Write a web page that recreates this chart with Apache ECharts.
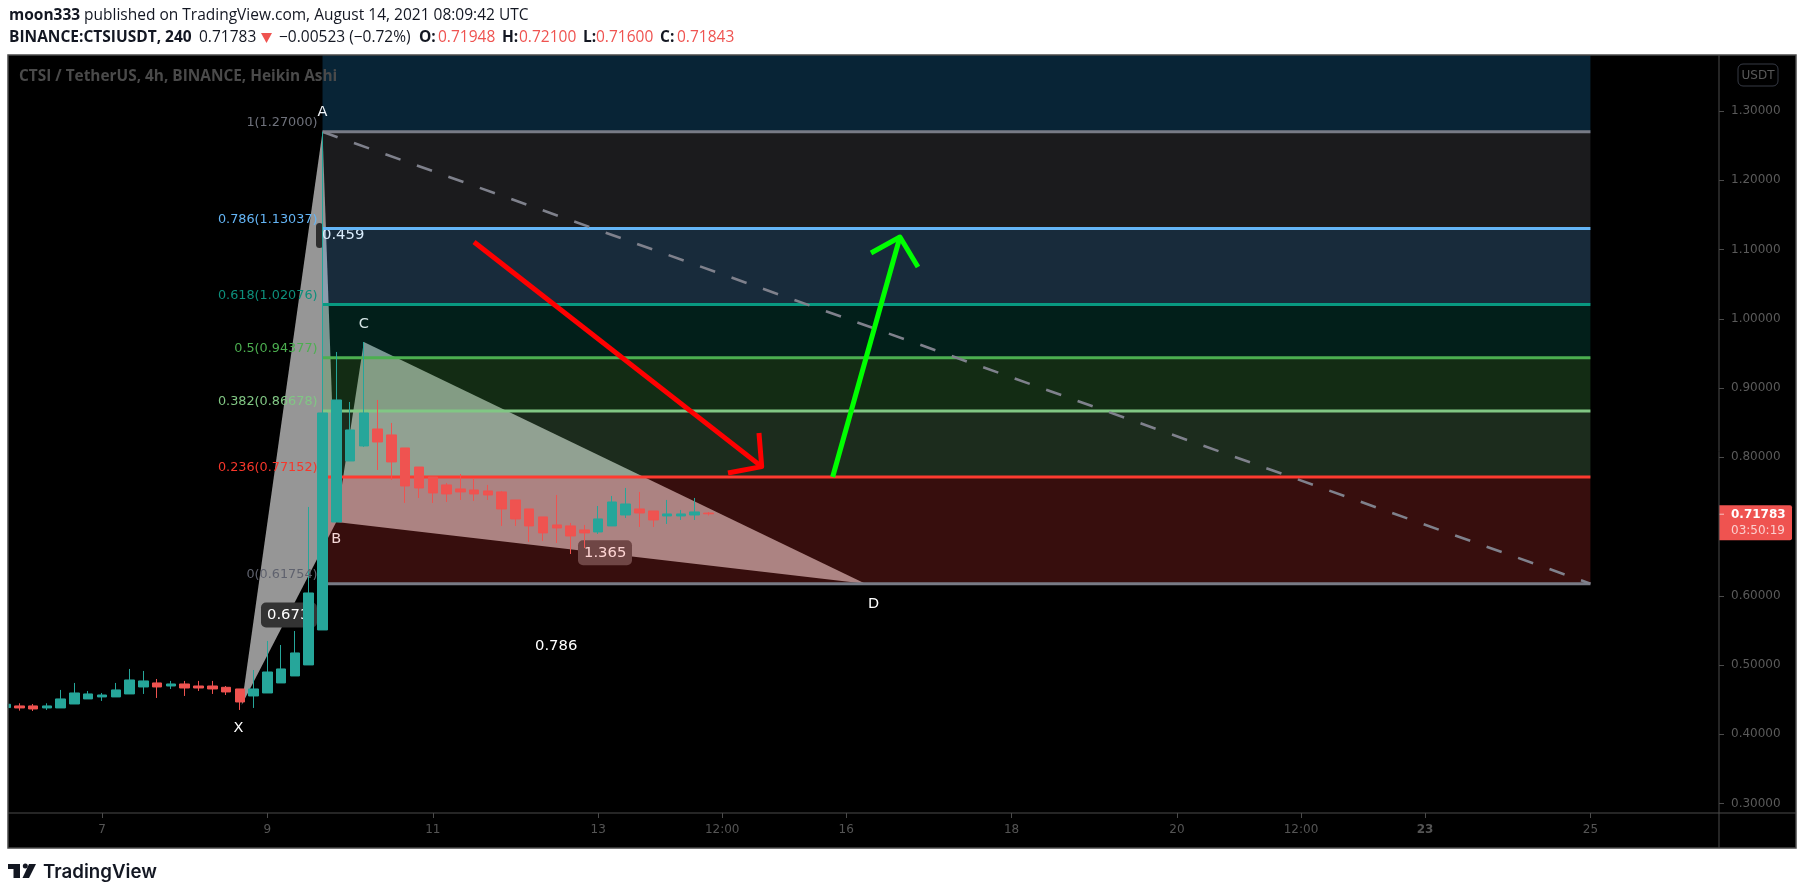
<!DOCTYPE html>
<html>
<head>
<meta charset="utf-8">
<style>html,body{margin:0;padding:0;background:#fff}#c{width:1805px;height:895px}</style>
<script src="https://cdn.jsdelivr.net/npm/echarts@6/dist/echarts.min.js"></script>
</head>
<body>
<div id="c"></div>
<script>
// ---- candle data (Heikin Ashi, 4h bars)
const firstBarDay = 5.8333;
const barStepDays = 0.16667;
const opens  = [.4386,.4410,.4410,.4381,.4381,.4438,.4511,.4540,.4540,.4583,.4684,.4742,.4698,.4727,.4698,.4698,.4679,.4655,.4554,.4597,.4742,.4843,.5002,.5507,.7066,.7947,.8164,.8409,.8323,.8135,.7860,.7716,.7601,.7543,.7528,.7514,.7500,.7384,.7254,.7139,.7023,.7009,.6951,.6922,.7009,.7167,.7254,.7225,.7153,.7153,.7167,.71948];
const closes = [.4434,.4381,.4366,.4410,.4511,.4597,.4583,.4568,.4641,.4785,.4771,.4684,.4727,.4669,.4669,.4655,.4612,.4467,.4655,.4900,.4944,.5175,.6041,.8640,.8828,.8395,.8640,.8221,.7933,.7586,.7557,.7485,.7471,.7500,.7471,.7456,.7254,.7110,.7009,.6908,.6980,.6864,.6908,.7110,.7355,.7326,.7196,.7095,.7182,.7182,.7211,.71843];
const lows   = [.4386,.4342,.4337,.4352,.4381,.4438,.4511,.4482,.4540,.4583,.4583,.4525,.4655,.4554,.4626,.4583,.4568,.4352,.4381,.4597,.4742,.4843,.5002,.5507,.7066,.7947,.8149,.7817,.7673,.7341,.7413,.7341,.7355,.7384,.7370,.7384,.7009,.7009,.6778,.6792,.6763,.6604,.6691,.6893,.7009,.7124,.6994,.6994,.7038,.7095,.7095,.71600];
const highs  = [.4434,.4448,.4438,.4448,.4641,.4742,.4626,.4597,.4742,.4944,.4915,.4799,.4771,.4771,.4771,.4771,.4698,.4655,.4929,.5348,.5290,.5492,.7283,1.2700,.9521,.8799,.9665,.8828,.8496,.8135,.7860,.7716,.7629,.7759,.7702,.7601,.7514,.7384,.7254,.7139,.7456,.7052,.7023,.7297,.7442,.7557,.7500,.7225,.7384,.7240,.7413,.72100];

// ---- fibonacci retracement
const fibRatios = ['1','0.786','0.618','0.5','0.382','0.236','0'];
const fibValues = [1.27000,1.13037,1.02076,0.94377,0.86678,0.77152,0.61754];
const fibLabels = ['1(1.27000)','0.786(1.13037)','0.618(1.02076)','0.5(0.94377)','0.382(0.86678)','0.236(0.77152)','0(0.61754)'];
const fibLineColors = ['#787b86','#64b5f6','#089981','#4caf50','#81c784','#ff3b30','#787b86'];
const fibLabelColors = ['#6f727c','#64b5f6','#0d8f7c','#4caf50','#81c784','#f7372b','#5f626e'];
const fibFillColors = ['rgba(40,170,255,.21)','rgba(135,135,145,.2)','rgba(100,181,246,.24)','rgba(8,153,129,.2)','rgba(76,175,80,.25)','rgba(129,199,132,.22)','rgba(250,65,60,.22)'];
const fibLeftDay = 9.6667, fibRightDay = 25;

// ---- harmonic pattern points [day, price]
const ptX = [8.689,0.4424], ptA = [9.6667,1.27], ptB = [9.8333,0.7066], ptC = [10.1667,0.9665], ptD = [16.233,0.61754];
const pointLabels = [
  ['A',9.6667,1.2985,'#f2f6fa'],['B',9.8333,0.6820,'#f5d8d8'],['C',10.1667,0.9920,'#d6e6e6'],
  ['D',16.33,0.5880,'#ffffff'],['X',8.65,0.4091,'#ffffff']];
const ratioTags = [
  ['0.673',267,0.5724,'#ffffff'],['0.459',322,1.1203,'#e6eef4'],['1.365',584,0.6623,'#f7dcdc'],['0.786',535,0.5276,'#ffffff']];

// ---- arrows
const redArrowShaft = [[11.499,1.1109],[14.978,0.7865]];
const redArrowHead  = [[14.945,0.8351],[14.978,0.7865],[14.570,0.7774]];
const greenArrowShaft = [[15.836,0.7716],[16.650,1.1181]];
const greenArrowHead  = [[16.300,1.0950],[16.650,1.1181],[16.868,1.0748]];

// ---- axes
const tickDays = [7,9,11,13,14.5,16,18,20,21.5,23,25];
const tickLabels = ['7','9','11','13','12:00','16','18','20','12:00','23','25'];
const priceTicks = [0.3,0.4,0.5,0.6,0.7,0.8,0.9,1.0,1.1,1.2,1.3];
const lastPrice = 0.71783;
const xMin = 5.8632, xMax = 26.555, yMin = 0.2864, yMax = 1.3809;

const candles = opens.map((o,i)=>[firstBarDay+i*barStepDays,o,closes[i],lows[i],highs[i]]);
const bandBounds = [yMax].concat(fibValues);
const fibBands = fibFillColors.map((c,i)=>[fibLeftDay,bandBounds[i],bandBounds[i+1],i]);
const MONO = '"DejaVu Sans",sans-serif';
const HEAD = '"Open Sans",sans-serif';
const frame = '#4a4a4a';

function triangleSeries(a,b,c,z){
  return {type:'custom',z,silent:true,animation:false,clip:true,
    encode:{x:[0,2,4],y:[1,3,5]},
    data:[[a[0],a[1],b[0],b[1],c[0],c[1]]],
    renderItem:(p,api)=>({type:'polygon',
      shape:{points:[0,2,4].map(k=>api.coord([api.value(k),api.value(k+1)]))},
      style:{fill:'#969696'}})};
}
function polyline(data,color,width,z,dash){
  return {type:'line',data,z,silent:true,animation:false,showSymbol:false,symbol:'none',clip:true,
    lineStyle:{color,width,type:dash||'solid',cap:'butt',join:'round'},itemStyle:{color}};
}

const series = [
  triangleSeries(ptX,ptA,ptB,1),
  triangleSeries(ptB,ptC,ptD,1),
  // tag boxes that sit below candles and fib fills
  {type:'custom',z:2,silent:true,animation:false,clip:false,
   data:ratioTags.map(t=>[xMin,t[2],t[1]]),
   encode:{x:0,y:1},
   renderItem:(p,api)=>{
     const t=ratioTags[p.dataIndex];const y=api.coord([xMin,t[2]])[1];const x=t[1];
     let box=null;
     if(t[0]==='0.673')box={x:x-6,w:56,fill:'#333333'};
     if(t[0]==='0.459')box={x:x-6,w:7,fill:'#2e2e2e'};
     if(t[0]==='1.365')box={x:x-6,w:54,fill:'#484848'};
     if(!box)return null;
     return {type:'rect',shape:{x:box.x,y:y-12.5,width:box.w,height:25,r:5},style:{fill:box.fill}};
   }},
  // ratio tag texts below the candles
  {type:'custom',z:2,silent:true,animation:false,clip:false,
   data:ratioTags.map(t=>[xMin,t[2]]),encode:{x:0,y:1},
   renderItem:(p,api)=>{
     const t=ratioTags[p.dataIndex];const y=api.coord([xMin,t[2]])[1];
     return {type:'text',z2:5,style:{x:t[1],y:y,text:t[0],fill:t[0]==='1.365'||t[0]==='0.459'?'#ffffff':t[3],font:'14.8px '+MONO,align:'left',verticalAlign:'middle'}};
   }},
  // fib fills
  {type:'custom',z:3,silent:true,animation:false,clip:true,
   data:fibBands,encode:{x:0,y:1},
   renderItem:(p,api)=>{
     const a=api.coord([fibLeftDay,api.value(1)]);const b=api.coord([fibRightDay,api.value(2)]);
     return {type:'rect',shape:{x:a[0],y:a[1],width:b[0]-a[0],height:b[1]-a[1]},style:{fill:fibFillColors[api.value(3)]}};
   }},
  // fib level lines
  ...fibValues.map((v,i)=>polyline([[fibLeftDay,v],[fibRightDay,v]],fibLineColors[i],3,4)),
  // dashed trend line
  polyline([[fibLeftDay,fibValues[0]],[fibRightDay,fibValues[6]]],'#7f818c',2.6,5,[16,17.4]),
  // candles
  {type:'candlestick',name:'CTSIUSDT',z:6,silent:true,animation:false,barWidth:10,clip:true,
   encode:{x:0,y:[1,2,3,4]},data:candles,
   itemStyle:{color:'#26a69a',color0:'#ef5350',borderColor:'#26a69a',borderColor0:'#ef5350',borderWidth:1}},
  // fib labels
  {type:'custom',z:7,silent:true,animation:false,clip:false,
   data:fibValues.map(v=>[fibLeftDay,v]),encode:{x:0,y:1},
   renderItem:(p,api)=>{
     const c=api.coord([api.value(0),api.value(1)]);
     return {type:'text',style:{x:c[0]-5,y:c[1]-9,text:fibLabels[p.dataIndex],fill:fibLabelColors[p.dataIndex],font:'12.8px '+MONO,align:'right',verticalAlign:'middle'}};
   }},
  // point labels
  {type:'custom',z:7,silent:true,animation:false,clip:false,
   data:pointLabels.map(t=>[t[1],t[2]]),encode:{x:0,y:1},
   renderItem:(p,api)=>{
     const c=api.coord([api.value(0),api.value(1)]);
     return {type:'text',style:{x:c[0],y:c[1],text:pointLabels[p.dataIndex][0],fill:pointLabels[p.dataIndex][3],font:'14.5px '+MONO,align:'center',verticalAlign:'middle'}};
   }},
  polyline(redArrowShaft,'#ff0000',5,8),
  polyline(redArrowHead,'#ff0000',5,8),
  polyline(greenArrowShaft,'#00ff00',5,8),
  polyline(greenArrowHead,'#00ff00',5,8),
  // last price tag
  {type:'custom',z:9,silent:true,animation:false,clip:false,
   data:[[xMax,lastPrice]],encode:{x:0,y:1},
   renderItem:(p,api)=>{
     const c=api.coord([api.value(0),api.value(1)]);
     return {type:'group',children:[
       {type:'rect',shape:{x:c[0],y:c[1]-9,width:73,height:35,r:[0,2,2,0]},style:{fill:'#ef5350'}},
       {type:'rect',shape:{x:c[0],y:c[1]-0.5,width:5,height:1},style:{fill:'#f9c0bd'}},
       {type:'text',style:{x:c[0]+12,y:c[1]+1,text:lastPrice.toFixed(5),fill:'#ffffff',font:'bold 12px '+MONO,verticalAlign:'middle'}},
       {type:'text',style:{x:c[0]+12,y:c[1]+17,text:'03:50:19',fill:'rgba(255,255,255,.72)',font:'12px '+MONO,verticalAlign:'middle'}}
     ]};
   }}
];

function t(text,x,y,fill,font,extra){
  return Object.assign({type:'text',z:50,silent:true,style:{text,x,y,fill,font,verticalAlign:'middle',align:'left'}},extra||{});
}
const graphic = [
  {type:'rect',z:-10,silent:true,shape:{x:8,y:55,width:1788,height:793},style:{fill:'#000'}},
  {type:'rect',z:100,silent:true,shape:{x:0,y:55,width:7.5,height:793},style:{fill:'#fff'}},
  {type:'rect',z:101,silent:true,shape:{x:8,y:55,width:1788,height:793},style:{fill:'none',stroke:frame,lineWidth:1.5}},
  {type:'line',z:40,silent:true,shape:{x1:8,y1:813,x2:1796,y2:813},style:{stroke:frame,lineWidth:1}},
  {type:'line',z:40,silent:true,shape:{x1:1719,y1:55,x2:1719,y2:848},style:{stroke:frame,lineWidth:1}},
  t('moon333',9,16,'#131722','bold 15.5px '+HEAD),
  t('published on TradingView.com, August 14, 2021 08:09:42 UTC',84,16,'#131722','15.5px '+HEAD),
  t('BINANCE:CTSIUSDT, 240',9,38,'#131722','bold 15.5px '+HEAD),
  t('0.71783',199,38,'#131722','15.5px '+HEAD),
  {type:'polygon',z:50,silent:true,shape:{points:[[261,33],[272,33],[266.5,43]]},style:{fill:'#ef5350'}},
  t('−0.00523 (−0.72%)',279,38,'#131722','15.5px '+HEAD),
  t('O:',419,38,'#131722','bold 15.5px '+HEAD),t('0.71948',438,38,'#ef5350','15.5px '+HEAD),
  t('H:',502,38,'#131722','bold 15.5px '+HEAD),t('0.72100',519,38,'#ef5350','15.5px '+HEAD),
  t('L:',583,38,'#131722','bold 15.5px '+HEAD),t('0.71600',596,38,'#ef5350','15.5px '+HEAD),
  t('C:',660,38,'#131722','bold 15.5px '+HEAD),t('0.71843',677,38,'#ef5350','15.5px '+HEAD),
  t('CTSI / TetherUS, 4h, BINANCE, Heikin Ashi',19,77,'#4a4a4a','bold 15.4px '+HEAD),
  {type:'rect',z:45,silent:true,shape:{x:1738,y:64,width:40,height:22,r:5},style:{fill:'#000',stroke:'#363a45',lineWidth:1}},
  t('USDT',1758,75.5,'#5a5a5a','12px '+MONO,{style:{text:'USDT',x:1758,y:75.5,fill:'#5a5a5a',font:'12px '+MONO,verticalAlign:'middle',align:'center'}}),
  // logo
  {type:'polygon',z:50,silent:true,shape:{points:[[8,864],[20,864],[20,878],[13.5,878],[13.5,869],[8,869]]},style:{fill:'#131722'}},
  {type:'circle',z:50,silent:true,shape:{cx:25.3,cy:866,r:2.5},style:{fill:'#131722'}},
  {type:'polygon',z:50,silent:true,shape:{points:[[29,864],[36,864],[29,878],[22.5,878]]},style:{fill:'#131722'}},
  t('TradingView',43,872,'#131722','600 18.7px Inter,sans-serif')
];

const chart = echarts.init(document.getElementById('c'),null,{renderer:'canvas'});
chart.setOption({
  animation:false,
  backgroundColor:'#ffffff',
  grid:{left:8,right:86,top:55,bottom:82,containLabel:false},
  tooltip:{show:false},
  xAxis:{type:'value',min:xMin,max:xMax,splitLine:{show:false},
    axisLine:{show:false},
    axisTick:{show:true,length:5,lineStyle:{color:frame},customValues:tickDays},
    axisLabel:{show:true,customValues:tickDays,color:'#555',fontFamily:'DejaVu Sans',fontSize:12,margin:11,
      showMinLabel:true,showMaxLabel:true,
      formatter:v=>{const s=tickLabels[tickDays.indexOf(v)];return s==='23'?'{b|23}':s;},
      rich:{b:{fontWeight:'bold',color:'#555',fontFamily:'DejaVu Sans',fontSize:12}}}},
  yAxis:{type:'value',position:'right',min:yMin,max:yMax,splitLine:{show:false},
    axisLine:{show:false},
    axisTick:{show:true,length:5,lineStyle:{color:frame},customValues:priceTicks},
    axisLabel:{show:true,customValues:priceTicks,color:'#5a5a5a',fontFamily:'DejaVu Sans',fontSize:12,margin:12,
      formatter:v=>v.toFixed(5)}},
  series,
  graphic
});
</script>
</body>
</html>
